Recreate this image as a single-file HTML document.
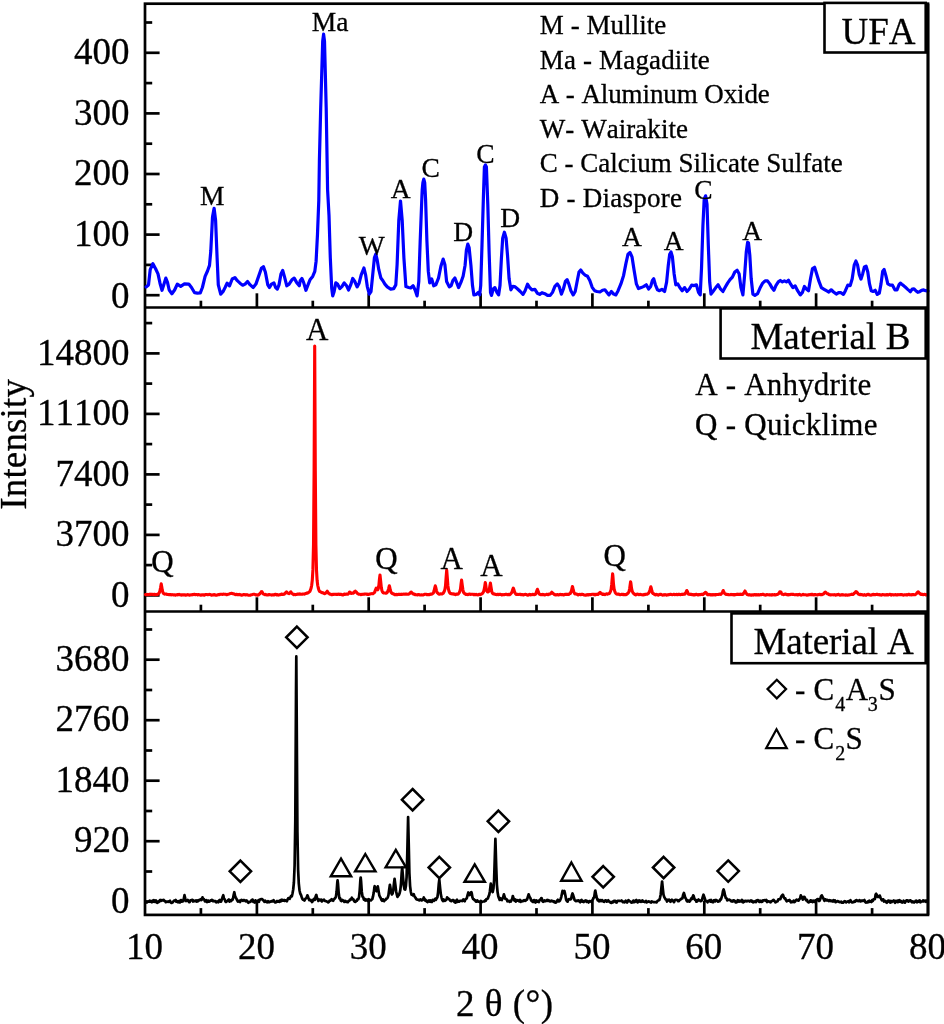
<!DOCTYPE html>
<html><head><meta charset="utf-8"><title>XRD patterns</title>
<style>html,body{margin:0;padding:0;background:#fff;}svg{display:block;}text{font-family:"Liberation Serif","DejaVu Serif",serif;fill:#000;font-kerning:none;stroke:#000;stroke-width:0.3px;}</style></head><body>
<svg width="944" height="1024" viewBox="0 0 944 1024">
<rect width="944" height="1024" fill="#fff"/>
<g stroke="#000" stroke-width="2.7" fill="none" stroke-linecap="butt">
<rect x="145.0" y="3.7" width="783.0" height="911.1999999999999"/>
<line x1="145.0" y1="307.5" x2="928.0" y2="307.5"/>
<line x1="145.0" y1="611.5" x2="928.0" y2="611.5"/>
<line x1="200.9" y1="307.5" x2="200.9" y2="300.7"/>
<line x1="256.9" y1="307.5" x2="256.9" y2="293.3"/>
<line x1="312.8" y1="307.5" x2="312.8" y2="300.7"/>
<line x1="368.7" y1="307.5" x2="368.7" y2="293.3"/>
<line x1="424.6" y1="307.5" x2="424.6" y2="300.7"/>
<line x1="480.6" y1="307.5" x2="480.6" y2="293.3"/>
<line x1="536.5" y1="307.5" x2="536.5" y2="300.7"/>
<line x1="592.4" y1="307.5" x2="592.4" y2="293.3"/>
<line x1="648.4" y1="307.5" x2="648.4" y2="300.7"/>
<line x1="704.3" y1="307.5" x2="704.3" y2="293.3"/>
<line x1="760.2" y1="307.5" x2="760.2" y2="300.7"/>
<line x1="816.1" y1="307.5" x2="816.1" y2="293.3"/>
<line x1="872.1" y1="307.5" x2="872.1" y2="300.7"/>
<line x1="200.9" y1="611.5" x2="200.9" y2="604.7"/>
<line x1="256.9" y1="611.5" x2="256.9" y2="597.3"/>
<line x1="312.8" y1="611.5" x2="312.8" y2="604.7"/>
<line x1="368.7" y1="611.5" x2="368.7" y2="597.3"/>
<line x1="424.6" y1="611.5" x2="424.6" y2="604.7"/>
<line x1="480.6" y1="611.5" x2="480.6" y2="597.3"/>
<line x1="536.5" y1="611.5" x2="536.5" y2="604.7"/>
<line x1="592.4" y1="611.5" x2="592.4" y2="597.3"/>
<line x1="648.4" y1="611.5" x2="648.4" y2="604.7"/>
<line x1="704.3" y1="611.5" x2="704.3" y2="597.3"/>
<line x1="760.2" y1="611.5" x2="760.2" y2="604.7"/>
<line x1="816.1" y1="611.5" x2="816.1" y2="597.3"/>
<line x1="872.1" y1="611.5" x2="872.1" y2="604.7"/>
<line x1="200.9" y1="914.9" x2="200.9" y2="908.1"/>
<line x1="256.9" y1="914.9" x2="256.9" y2="900.7"/>
<line x1="312.8" y1="914.9" x2="312.8" y2="908.1"/>
<line x1="368.7" y1="914.9" x2="368.7" y2="900.7"/>
<line x1="424.6" y1="914.9" x2="424.6" y2="908.1"/>
<line x1="480.6" y1="914.9" x2="480.6" y2="900.7"/>
<line x1="536.5" y1="914.9" x2="536.5" y2="908.1"/>
<line x1="592.4" y1="914.9" x2="592.4" y2="900.7"/>
<line x1="648.4" y1="914.9" x2="648.4" y2="908.1"/>
<line x1="704.3" y1="914.9" x2="704.3" y2="900.7"/>
<line x1="760.2" y1="914.9" x2="760.2" y2="908.1"/>
<line x1="816.1" y1="914.9" x2="816.1" y2="900.7"/>
<line x1="872.1" y1="914.9" x2="872.1" y2="908.1"/>
<line x1="145.0" y1="295.2" x2="159.6" y2="295.2"/>
<line x1="145.0" y1="234.6" x2="159.6" y2="234.6"/>
<line x1="145.0" y1="174.0" x2="159.6" y2="174.0"/>
<line x1="145.0" y1="113.4" x2="159.6" y2="113.4"/>
<line x1="145.0" y1="52.8" x2="159.6" y2="52.8"/>
<line x1="145.0" y1="264.9" x2="152.2" y2="264.9"/>
<line x1="145.0" y1="204.3" x2="152.2" y2="204.3"/>
<line x1="145.0" y1="143.7" x2="152.2" y2="143.7"/>
<line x1="145.0" y1="83.1" x2="152.2" y2="83.1"/>
<line x1="145.0" y1="22.5" x2="152.2" y2="22.5"/>
<line x1="145.0" y1="595.4" x2="159.6" y2="595.4"/>
<line x1="145.0" y1="534.9" x2="159.6" y2="534.9"/>
<line x1="145.0" y1="474.4" x2="159.6" y2="474.4"/>
<line x1="145.0" y1="413.9" x2="159.6" y2="413.9"/>
<line x1="145.0" y1="353.4" x2="159.6" y2="353.4"/>
<line x1="145.0" y1="565.1" x2="152.2" y2="565.1"/>
<line x1="145.0" y1="504.6" x2="152.2" y2="504.6"/>
<line x1="145.0" y1="444.1" x2="152.2" y2="444.1"/>
<line x1="145.0" y1="383.6" x2="152.2" y2="383.6"/>
<line x1="145.0" y1="323.1" x2="152.2" y2="323.1"/>
<line x1="145.0" y1="901.7" x2="159.6" y2="901.7"/>
<line x1="145.0" y1="841.2" x2="159.6" y2="841.2"/>
<line x1="145.0" y1="780.7" x2="159.6" y2="780.7"/>
<line x1="145.0" y1="720.2" x2="159.6" y2="720.2"/>
<line x1="145.0" y1="659.7" x2="159.6" y2="659.7"/>
<line x1="145.0" y1="871.5" x2="152.2" y2="871.5"/>
<line x1="145.0" y1="811.0" x2="152.2" y2="811.0"/>
<line x1="145.0" y1="750.5" x2="152.2" y2="750.5"/>
<line x1="145.0" y1="690.0" x2="152.2" y2="690.0"/>
<line x1="145.0" y1="629.5" x2="152.2" y2="629.5"/>
</g>
<polyline points="146.1,286.9 148.5,284.9 150.2,269.7 152.9,263.7 155.6,268.8 158.0,273.9 160.0,283.2 162.0,290.3 163.7,284.9 165.8,278.1 167.5,282.4 169.2,290.0 171.9,293.7 174.6,290.0 177.3,284.1 180.7,286.3 184.4,283.9 188.8,284.1 191.5,287.5 194.6,292.7 197.3,293.1 200.3,292.9 202.4,287.5 205.1,276.4 207.5,271.0 209.5,265.4 210.8,251.0 212.5,217.1 214.1,208.3 215.6,220.5 217.1,257.8 218.3,284.9 220.7,294.2 223.1,291.4 225.1,287.5 227.1,283.2 229.5,285.8 232.2,279.0 234.9,277.6 237.3,280.7 240.0,283.2 242.7,285.2 245.1,284.1 247.5,281.5 250.2,284.9 253.2,287.5 255.9,284.1 258.6,276.4 261.4,268.3 263.4,266.6 265.4,272.2 267.8,284.9 269.5,287.5 271.5,284.1 273.9,282.9 275.6,287.5 277.3,289.1 279.0,284.9 281.0,273.9 282.7,270.5 284.4,276.4 286.8,285.8 289.1,284.1 291.9,279.8 294.2,278.1 296.6,282.4 299.3,285.8 300.2,280.7 301.9,278.5 303.6,282.4 305.9,290.3 308.0,284.9 310.0,279.8 312.7,276.4 314.8,271.4 316.1,261.2 317.5,234.1 318.8,200.2 319.4,160.7 320.7,107.9 322.7,41.1 323.6,34.1 324.5,41.1 326.2,107.9 327.6,190.0 329.0,215.4 330.3,257.8 331.7,288.3 332.7,295.9 334.1,291.7 335.8,282.9 337.5,284.1 339.8,288.6 341.9,286.6 344.2,282.9 346.6,285.8 348.6,290.0 350.7,284.9 352.7,278.5 354.8,281.5 357.1,286.9 359.1,283.2 361.2,274.8 363.9,268.0 365.6,274.8 367.3,286.6 369.3,294.2 371.0,291.7 372.7,274.8 374.4,257.8 375.8,254.1 377.1,259.5 378.8,269.7 380.9,278.1 382.9,280.7 384.9,284.1 387.3,286.9 390.7,289.1 393.7,288.6 395.8,284.9 397.1,264.6 398.8,220.5 400.5,201.0 402.2,220.5 403.9,257.8 405.9,286.6 408.6,287.5 410.7,288.0 413.1,285.8 415.1,290.0 417.1,295.9 418.8,281.5 420.2,240.8 421.9,196.8 422.2,190.0 422.9,182.6 423.8,179.1 424.7,182.6 425.1,190.0 425.6,200.2 426.9,240.8 428.3,271.4 429.7,282.9 431.7,279.0 433.7,285.8 435.8,284.9 438.5,278.1 440.9,266.3 443.2,259.1 444.9,264.6 446.6,281.5 449.3,286.9 451.2,285.6 452.9,280.5 454.9,278.0 456.9,283.1 458.6,287.6 461.0,282.2 463.1,276.3 465.1,265.2 466.4,250.0 467.8,244.1 469.1,247.5 470.9,265.2 472.5,285.6 473.9,294.9 476.3,294.4 478.3,292.4 479.7,294.9 480.7,285.6 482.0,244.9 483.4,197.5 484.4,166.9 485.4,164.9 486.4,166.9 487.8,204.2 489.1,251.7 490.5,292.4 491.5,295.4 493.2,289.0 494.9,287.6 496.9,292.4 498.6,294.9 500.0,285.6 501.4,258.5 502.7,238.1 504.4,232.2 506.1,238.1 507.5,255.1 509.1,278.8 510.9,289.8 512.9,286.4 515.2,286.9 517.6,289.0 520.3,291.5 523.0,294.4 525.1,290.7 527.5,284.2 529.5,287.3 531.9,289.8 534.9,289.3 537.3,293.2 539.7,294.4 542.0,292.7 544.8,293.7 547.5,295.4 550.2,295.4 552.5,292.4 554.9,286.4 557.3,283.9 559.3,286.9 561.4,294.1 563.4,289.0 565.4,281.4 567.1,279.7 568.8,283.9 570.9,290.7 573.2,294.9 575.2,291.5 577.3,280.5 579.0,272.0 580.7,270.0 582.7,272.9 585.1,275.1 587.5,276.3 589.8,280.5 592.2,287.3 594.6,290.7 597.0,291.5 600.0,292.0 602.5,290.3 604.9,289.8 607.0,292.4 609.0,294.9 611.4,291.5 613.7,294.1 615.8,294.9 618.1,290.7 620.9,283.9 623.6,275.4 625.9,263.6 628.0,254.2 630.0,252.5 632.0,256.8 634.1,270.3 636.4,283.9 638.5,288.6 641.2,287.6 643.9,286.4 646.3,284.8 648.6,289.0 650.7,286.4 652.4,280.5 653.7,278.8 655.4,284.8 657.5,289.8 659.5,290.7 661.9,289.3 664.6,291.5 666.6,282.2 668.3,265.2 669.7,254.2 671.0,252.0 672.4,256.8 674.1,273.7 675.8,284.8 677.8,283.9 679.8,287.6 682.2,290.7 684.6,287.6 687.0,291.5 689.3,289.0 691.7,285.2 694.1,285.6 696.4,284.8 698.5,292.4 700.2,294.9 701.5,268.6 702.9,226.3 704.2,199.2 705.6,195.8 707.0,204.2 708.3,244.9 709.7,282.2 711.0,294.1 713.0,291.5 715.8,287.6 718.1,284.8 720.5,289.0 722.9,291.5 725.2,287.3 727.6,283.1 730.0,279.7 732.4,277.1 734.8,272.0 737.1,270.3 739.1,273.7 740.9,287.3 742.9,294.9 744.6,275.4 746.3,251.7 747.6,242.4 748.5,242.9 749.8,255.1 751.2,278.8 752.9,294.1 754.9,295.4 757.6,293.7 760.0,288.1 762.7,283.1 765.1,280.9 767.5,280.9 769.8,283.9 772.2,288.1 773.9,290.3 775.9,285.6 778.3,281.9 780.3,280.5 782.4,281.9 784.4,280.9 786.4,281.9 788.5,280.2 790.5,283.9 792.9,287.6 795.2,285.9 797.6,290.7 800.3,294.9 802.4,292.4 804.4,286.4 806.4,289.0 808.5,290.7 810.5,278.8 812.5,268.6 814.6,267.3 816.6,273.7 819.0,281.4 821.4,287.6 824.1,289.3 826.4,290.7 828.8,292.0 831.2,289.8 833.6,292.0 836.3,294.1 838.6,292.7 841.0,292.7 843.4,294.4 845.4,290.7 847.8,285.2 850.2,285.6 852.2,278.8 854.2,265.2 855.9,261.0 857.6,265.2 859.3,274.6 861.0,279.1 862.7,273.7 864.4,266.9 866.1,266.1 867.8,272.0 869.5,283.9 871.2,290.7 873.2,291.5 875.2,290.3 877.3,294.4 879.3,293.2 881.0,283.9 882.7,271.2 884.1,269.5 885.8,275.4 887.8,283.9 890.2,285.2 892.5,285.2 894.9,289.8 897.0,289.8 899.0,284.8 900.3,283.1 901.8,284.3 903.6,285.6 905.4,287.2 907.4,289.1 908.9,290.4 910.4,291.7 912.2,289.1 914.0,288.9 915.8,290.7 917.8,292.3 919.6,291.7 921.6,290.4 923.7,289.9 925.7,290.7 928.0,291.1" fill="none" stroke="#0000ff" stroke-width="3.2" stroke-linejoin="round" stroke-linecap="round"/>
<polyline points="145.5,594.6 146.1,594.5 146.7,594.7 147.3,594.4 147.9,594.6 148.5,594.6 149.1,594.4 149.7,594.5 150.3,594.3 150.9,594.5 151.5,594.3 152.1,594.2 152.7,594.4 153.3,594.7 153.9,594.4 154.5,594.3 155.1,594.5 155.7,594.8 156.3,594.6 156.9,594.4 157.5,594.5 158.1,593.8 158.7,593.7 159.3,592.8 159.9,591.0 160.5,588.0 161.2,583.9 161.7,586.6 162.3,590.3 162.9,592.4 163.5,593.4 164.1,593.8 164.7,594.1 165.3,594.0 165.9,594.0 166.5,594.1 167.1,594.5 167.7,594.5 168.3,594.5 168.9,594.6 169.5,594.6 170.1,594.5 170.7,594.8 171.3,594.9 171.9,594.6 172.5,594.7 173.1,594.8 173.7,595.0 174.3,595.0 174.9,594.8 175.5,595.1 176.1,594.7 176.7,594.7 177.3,594.9 177.9,594.6 178.5,594.7 179.1,594.4 179.7,594.7 180.3,594.9 180.9,594.9 181.5,595.1 182.1,594.8 182.7,594.9 183.3,594.9 183.9,594.9 184.5,594.8 185.1,595.0 185.7,595.2 186.3,595.0 186.9,595.0 187.5,594.6 188.1,594.8 188.7,594.9 189.3,595.2 189.9,595.2 190.5,594.9 191.1,594.7 191.7,594.9 192.3,594.5 192.9,594.6 193.5,594.5 194.1,594.4 194.7,594.3 195.3,594.7 195.9,594.5 196.5,594.5 197.1,594.5 197.7,594.9 198.3,594.6 198.9,594.6 199.5,594.8 200.1,595.0 200.7,595.1 201.3,595.2 201.9,594.9 202.5,594.8 203.1,594.7 203.7,595.0 204.3,595.2 204.9,594.8 205.5,594.5 206.1,594.5 206.7,594.5 207.3,594.6 207.9,594.8 208.5,594.6 209.1,594.4 209.7,594.5 210.3,594.6 210.9,594.7 211.5,595.1 212.1,595.1 212.7,594.9 213.3,594.9 213.9,595.0 214.5,594.6 215.1,595.0 215.7,595.1 216.3,595.2 216.9,595.2 217.5,594.9 218.1,594.8 218.7,594.5 219.3,594.7 219.9,594.4 220.5,594.3 221.1,594.3 221.7,594.3 222.3,594.4 222.9,594.3 223.5,594.1 224.1,594.2 224.7,594.2 225.3,594.3 225.9,594.2 226.5,594.6 227.1,594.7 227.7,594.4 228.3,594.2 228.9,594.1 229.5,593.9 230.1,593.5 230.7,593.5 231.5,593.4 231.9,593.3 232.5,593.6 233.1,593.7 233.7,593.8 234.3,594.1 234.9,594.2 235.5,594.6 236.1,594.4 236.7,594.2 237.3,594.8 237.9,594.8 238.5,594.5 239.1,594.6 239.7,594.4 240.3,594.6 240.9,595.0 241.5,595.1 242.1,595.1 242.7,594.8 243.3,594.7 243.9,594.5 244.5,594.8 245.1,594.8 245.7,595.0 246.3,594.8 246.9,594.6 247.5,594.9 248.1,595.2 248.7,595.2 249.3,595.2 249.9,595.2 250.5,595.1 251.1,594.8 251.7,594.8 252.3,594.6 252.9,594.4 253.5,594.2 254.1,594.3 254.7,594.3 255.3,594.6 255.9,595.0 256.5,594.7 257.1,595.0 257.7,595.1 258.3,595.0 258.9,594.5 259.5,594.0 260.1,593.5 260.7,592.8 261.3,591.8 261.8,591.6 262.5,592.7 263.1,593.7 263.7,594.1 264.3,594.4 264.9,594.7 265.5,594.4 266.1,594.6 266.7,594.9 267.3,595.0 267.9,595.0 268.5,594.8 269.1,594.5 269.7,594.8 270.3,594.7 270.9,594.9 271.5,595.1 272.1,594.9 272.7,594.7 273.3,595.0 273.9,595.0 274.5,594.7 275.1,594.4 275.7,594.3 276.3,594.8 276.9,595.0 277.5,594.6 278.1,594.9 278.7,595.1 279.3,594.9 279.9,594.6 280.5,594.6 281.1,594.3 281.7,594.0 282.3,594.5 282.9,594.5 283.5,594.3 284.1,594.3 284.7,593.7 285.3,593.1 286.2,592.2 286.5,591.9 287.1,592.5 287.7,593.1 288.3,593.4 288.9,593.6 289.5,593.2 290.1,592.7 290.8,591.8 291.3,592.8 291.9,593.4 292.5,593.9 293.1,594.2 293.7,594.6 294.3,594.4 294.9,594.7 295.5,594.6 296.1,594.5 296.7,594.5 297.3,594.1 297.9,594.2 298.5,594.1 299.1,593.9 299.7,594.3 300.3,594.1 300.9,594.1 301.5,594.3 302.1,594.3 302.7,594.0 303.3,594.0 303.9,594.0 304.5,594.1 305.1,593.6 305.7,593.6 306.3,593.3 306.9,593.0 307.5,593.1 308.1,592.8 308.7,592.4 309.3,591.9 309.9,591.3 310.5,589.9 311.1,588.1 311.7,585.2 312.3,580.1 312.9,569.9 313.5,545.0 314.1,470.4 314.7,346.0 315.3,470.4 315.9,545.1 316.5,570.0 317.1,580.3 317.7,585.2 318.3,588.0 318.9,590.1 319.5,591.3 320.1,591.6 320.7,591.9 321.3,592.4 321.9,592.5 322.5,592.8 323.1,592.8 323.7,593.3 324.3,593.5 324.9,593.7 325.5,593.1 326.1,592.8 326.7,592.1 327.3,591.2 327.9,592.2 328.5,593.3 329.1,593.5 329.7,594.1 330.3,594.1 330.9,594.2 331.5,594.6 332.1,594.7 332.7,594.3 333.3,594.3 333.9,594.4 334.5,594.3 335.1,594.2 335.7,594.2 336.3,594.5 336.9,594.2 337.5,594.4 338.1,594.4 338.7,594.1 339.3,594.2 339.9,594.5 340.5,594.5 341.1,594.2 341.7,594.7 342.3,594.8 342.9,595.0 343.5,594.5 344.1,594.3 344.7,594.0 345.3,594.4 345.9,594.2 346.5,594.0 347.1,594.0 347.7,594.2 348.3,594.0 348.9,593.1 349.5,592.1 350.0,592.1 350.7,592.7 351.3,593.4 351.9,593.3 352.5,593.1 353.1,593.3 353.7,592.8 354.3,591.9 354.9,591.5 355.4,591.2 356.1,592.0 356.7,592.5 357.3,593.5 357.9,593.5 358.5,594.1 359.1,594.2 359.7,594.2 360.3,594.4 360.9,594.7 361.5,594.4 362.1,594.2 362.7,594.4 363.3,594.3 363.9,594.1 364.5,594.1 365.1,594.0 365.7,594.0 366.3,594.1 366.9,594.2 367.5,594.5 368.1,594.3 368.7,594.4 369.3,594.1 369.9,594.1 370.5,593.8 371.1,593.8 371.7,593.6 372.3,593.8 372.9,593.7 373.5,593.2 374.1,592.8 374.7,592.2 375.3,590.3 376.2,588.2 376.5,588.3 377.1,589.3 377.7,589.8 378.3,588.5 378.9,585.1 379.5,578.7 380.0,575.0 380.7,581.4 381.3,587.3 381.9,590.5 382.5,592.0 383.1,592.6 383.7,593.0 384.3,593.0 384.9,593.0 385.5,593.0 386.1,593.3 386.7,592.9 387.3,592.2 387.9,591.0 388.5,589.1 389.3,585.8 389.7,587.0 390.3,590.1 390.9,591.9 391.5,592.8 392.1,593.5 392.7,593.6 393.3,593.9 393.9,594.0 394.5,594.5 395.1,594.8 395.7,594.7 396.3,594.4 396.9,594.8 397.5,594.5 398.1,594.5 398.7,594.2 399.3,594.3 399.9,594.4 400.5,594.5 401.1,594.4 401.7,594.5 402.3,594.2 402.9,594.2 403.5,594.1 404.1,594.3 404.7,594.1 405.3,594.0 405.9,594.1 406.5,594.0 407.1,594.2 407.7,594.2 408.3,594.2 408.9,594.0 409.5,593.6 410.1,593.0 411.0,592.0 411.3,592.0 411.9,593.0 412.5,593.2 413.1,593.9 413.7,594.2 414.3,594.0 414.9,594.5 415.5,594.8 416.1,594.8 416.7,594.8 417.3,594.9 417.9,594.5 418.5,594.6 419.1,594.6 419.7,594.9 420.3,595.0 420.9,595.0 421.5,594.9 422.1,595.0 422.7,595.0 423.3,594.9 423.9,594.6 424.5,594.3 425.1,594.2 425.7,594.3 426.3,594.2 426.9,594.6 427.5,594.6 428.1,594.6 428.7,594.6 429.3,594.6 429.9,594.5 430.5,594.0 431.1,594.3 431.7,594.2 432.3,593.9 432.9,593.4 433.5,592.7 434.1,590.8 434.7,588.2 435.3,585.8 435.9,588.0 436.5,590.6 437.1,592.5 437.7,593.0 438.3,593.6 438.9,594.2 439.5,594.1 440.1,594.0 440.7,593.9 441.3,594.0 441.9,594.0 442.5,593.7 443.1,593.4 443.7,592.4 444.3,591.3 444.9,589.4 445.5,585.8 446.1,577.6 446.7,570.1 447.3,577.6 447.9,585.7 448.5,589.4 449.1,591.6 449.7,592.7 450.3,593.4 450.9,593.5 451.5,593.8 452.1,593.9 452.7,594.0 453.3,593.9 453.9,594.3 454.5,594.1 455.1,594.5 455.7,594.6 456.3,594.0 456.9,594.0 457.5,594.1 458.1,594.1 458.7,593.5 459.3,592.6 459.9,591.2 460.5,588.9 461.1,583.5 461.6,580.1 462.3,585.5 462.9,589.8 463.5,592.3 464.1,592.9 464.7,593.7 465.3,594.0 465.9,594.4 466.5,594.5 467.1,594.3 467.7,594.6 468.3,594.5 468.9,594.2 469.5,594.0 470.1,594.3 470.7,594.4 471.3,594.3 471.9,594.2 472.5,594.3 473.1,594.3 473.7,594.7 474.3,594.3 474.9,594.6 475.5,594.8 476.1,594.4 476.7,594.8 477.3,594.8 477.9,594.9 478.5,594.5 479.1,594.4 479.7,594.2 480.3,594.6 480.9,594.4 481.5,594.0 482.1,593.7 482.7,593.1 483.3,592.2 483.9,590.6 484.5,587.9 485.3,582.6 485.7,584.6 486.3,588.9 486.9,591.0 487.5,592.0 488.1,591.9 488.7,591.3 489.3,589.8 489.9,585.7 490.4,583.1 491.1,587.5 491.7,591.3 492.3,593.0 492.9,593.6 493.5,594.0 494.1,593.8 494.7,594.2 495.3,594.3 495.9,594.5 496.5,594.6 497.1,594.4 497.7,594.2 498.3,594.7 498.9,594.4 499.5,594.5 500.1,594.4 500.7,594.4 501.3,594.7 501.9,595.0 502.5,594.6 503.1,594.8 503.7,594.6 504.3,594.6 504.9,594.5 505.5,594.4 506.1,594.2 506.7,594.2 507.3,594.6 507.9,594.6 508.5,594.3 509.1,594.6 509.7,594.7 510.3,594.3 510.9,593.6 511.5,592.9 512.1,591.7 512.7,589.6 513.3,588.1 513.9,589.6 514.5,591.7 515.1,593.1 515.7,594.0 516.3,594.4 516.9,594.4 517.5,594.4 518.1,594.5 518.7,594.5 519.3,594.4 519.9,594.2 520.5,594.3 521.1,594.8 521.7,594.5 522.3,594.6 522.9,594.7 523.5,595.0 524.1,594.6 524.7,594.5 525.3,594.4 525.9,594.5 526.5,594.6 527.1,595.0 527.7,595.1 528.3,595.1 528.9,594.6 529.5,594.3 530.1,594.6 530.7,594.9 531.3,594.7 531.9,594.7 532.5,594.3 533.1,594.3 533.7,594.6 534.3,594.6 534.9,594.5 535.5,594.2 536.1,593.0 536.7,591.1 537.4,589.3 537.9,590.5 538.5,592.5 539.1,593.8 539.7,594.3 540.3,594.5 540.9,594.7 541.5,594.6 542.1,594.6 542.7,594.3 543.3,594.7 543.9,594.5 544.5,594.9 545.1,594.9 545.7,594.6 546.3,594.4 546.9,594.3 547.5,594.5 548.1,594.7 548.7,594.3 549.3,594.0 549.9,594.1 550.5,593.9 551.1,593.1 551.8,592.2 552.3,592.9 552.9,593.3 553.5,593.8 554.1,594.2 554.7,594.7 555.3,594.8 555.9,595.0 556.5,594.8 557.1,594.6 557.7,594.5 558.3,594.9 558.9,594.9 559.5,594.7 560.1,594.4 560.7,594.5 561.3,594.7 561.9,594.6 562.5,594.5 563.1,594.7 563.7,595.0 564.3,594.6 564.9,594.3 565.5,594.3 566.1,594.4 566.7,594.5 567.3,594.3 567.9,594.5 568.5,594.5 569.1,594.2 569.7,593.6 570.3,593.5 570.9,592.2 571.5,590.5 572.4,586.5 572.7,587.2 573.3,590.3 573.9,592.1 574.5,593.5 575.1,593.9 575.7,593.9 576.3,594.0 576.9,594.2 577.5,594.5 578.1,594.9 578.7,594.5 579.3,594.5 579.9,594.4 580.5,594.8 581.1,594.5 581.7,594.3 582.3,594.2 582.9,594.4 583.5,594.8 584.1,595.0 584.7,595.0 585.3,595.2 585.9,595.3 586.5,594.9 587.1,594.6 587.7,594.9 588.3,595.0 588.9,594.5 589.5,594.7 590.1,594.6 590.7,594.6 591.3,594.5 591.9,594.4 592.5,594.2 593.1,594.2 593.7,594.3 594.3,594.8 594.9,594.4 595.5,594.8 596.1,594.4 596.7,594.3 597.3,594.5 597.9,594.5 598.5,594.0 599.1,593.1 600.0,592.4 600.3,592.5 600.9,593.5 601.5,593.7 602.1,594.0 602.7,594.5 603.3,594.1 603.9,594.2 604.5,594.5 605.1,594.6 605.7,594.1 606.3,593.9 606.9,593.7 607.5,594.1 608.1,593.8 608.7,593.8 609.3,593.6 609.9,592.7 610.5,591.4 611.1,589.5 611.7,584.4 612.6,573.8 612.9,576.0 613.5,584.3 614.1,589.0 614.7,591.0 615.3,592.6 615.9,593.5 616.5,593.9 617.1,594.3 617.7,594.0 618.3,594.0 618.9,594.1 619.5,594.6 620.1,594.8 620.7,594.6 621.3,594.3 621.9,594.4 622.5,594.4 623.1,594.7 623.7,594.3 624.3,594.6 624.9,594.6 625.5,594.6 626.1,594.6 626.7,594.3 627.3,593.8 627.9,593.3 628.5,592.5 629.1,591.4 629.7,588.2 630.6,581.7 630.9,583.1 631.5,588.2 632.1,590.9 632.7,592.2 633.3,593.2 633.9,593.6 634.5,594.3 635.1,594.6 635.7,594.9 636.3,594.5 636.9,594.2 637.5,594.1 638.1,594.3 638.7,594.6 639.3,594.6 639.9,594.4 640.5,594.4 641.1,594.6 641.7,594.7 642.3,594.8 642.9,594.9 643.5,594.9 644.1,594.4 644.7,594.7 645.3,594.4 645.9,594.4 646.5,594.2 647.1,594.3 647.7,593.8 648.3,593.4 648.9,592.7 649.5,591.4 650.1,589.5 650.8,586.8 651.3,588.3 651.9,591.0 652.5,593.0 653.1,593.6 653.7,593.8 654.3,594.3 654.9,594.5 655.5,594.9 656.1,594.4 656.7,594.5 657.3,594.8 657.9,595.0 658.5,595.1 659.1,594.6 659.7,594.5 660.3,594.3 660.9,594.3 661.5,594.8 662.1,594.8 662.7,595.1 663.3,594.8 663.9,595.0 664.5,594.9 665.1,594.6 665.7,594.9 666.3,595.1 666.9,594.7 667.5,594.8 668.1,594.9 668.7,594.6 669.3,594.6 669.9,594.4 670.5,594.4 671.1,594.4 671.7,594.6 672.3,594.8 672.9,594.6 673.5,594.3 674.1,594.4 674.7,594.7 675.3,594.5 675.9,594.5 676.5,594.4 677.1,594.8 677.7,594.8 678.3,594.4 678.9,594.3 679.5,594.4 680.1,594.6 680.7,594.7 681.3,594.4 681.9,594.2 682.5,594.5 683.1,594.4 683.7,594.2 684.3,594.0 684.9,594.1 685.5,593.2 686.1,592.0 686.8,590.5 687.3,591.3 687.9,593.1 688.5,594.1 689.1,594.2 689.7,594.2 690.3,594.5 690.9,594.4 691.5,594.2 692.1,594.7 692.7,594.6 693.3,594.9 693.9,594.7 694.5,595.0 695.1,594.8 695.7,594.5 696.3,594.3 696.9,594.5 697.5,594.7 698.1,595.0 698.7,594.5 699.3,594.7 699.9,594.6 700.5,594.6 701.1,594.4 701.7,594.3 702.3,594.4 702.9,594.6 703.5,594.0 704.1,593.6 704.7,593.0 705.4,592.3 705.9,592.4 706.5,593.2 707.1,594.2 707.7,594.7 708.3,594.7 708.9,594.3 709.5,594.8 710.1,594.6 710.7,595.0 711.3,594.9 711.9,595.0 712.5,594.6 713.1,594.9 713.7,594.6 714.3,594.6 714.9,594.9 715.5,595.0 716.1,594.6 716.7,594.5 717.3,594.5 717.9,594.5 718.5,594.5 719.1,594.2 719.7,594.1 720.3,594.3 720.9,594.4 721.5,593.6 722.1,592.9 722.7,591.7 723.2,590.5 723.9,592.2 724.5,593.1 725.1,593.9 725.7,594.2 726.3,594.5 726.9,594.4 727.5,594.5 728.1,594.6 728.7,594.6 729.3,594.8 729.9,594.7 730.5,594.7 731.1,594.4 731.7,594.6 732.3,594.7 732.9,594.5 733.5,594.8 734.1,595.0 734.7,594.8 735.3,594.5 735.9,594.6 736.5,594.4 737.1,594.3 737.7,594.5 738.3,594.3 738.9,594.4 739.5,594.5 740.1,594.3 740.7,594.5 741.3,594.2 741.9,594.4 742.5,594.5 743.1,594.1 743.7,593.2 744.3,592.2 745.0,591.0 745.5,592.1 746.1,593.0 746.7,594.0 747.3,594.6 747.9,594.8 748.5,594.9 749.1,594.6 749.7,595.0 750.3,594.8 750.9,595.1 751.5,595.2 752.1,594.7 752.7,594.9 753.3,595.1 753.9,594.6 754.5,594.6 755.1,594.9 755.7,594.6 756.3,594.9 756.9,594.7 757.5,595.0 758.1,594.6 758.7,594.7 759.3,595.0 759.9,594.7 760.5,594.6 761.1,594.7 761.7,594.6 762.3,594.4 762.9,594.3 763.5,594.3 764.1,594.9 764.7,594.9 765.3,595.1 765.9,594.7 766.5,594.9 767.1,594.6 767.7,594.7 768.3,594.8 768.9,594.7 769.5,595.0 770.1,594.9 770.7,594.9 771.3,595.1 771.9,594.6 772.5,595.0 773.1,594.9 773.7,594.7 774.3,594.9 774.9,594.6 775.5,594.9 776.1,594.8 776.7,594.5 777.3,594.5 777.9,594.2 778.5,593.6 779.1,593.3 779.7,592.0 780.3,591.7 780.9,592.1 781.5,593.2 782.1,594.2 782.7,594.4 783.3,594.6 783.9,594.5 784.5,594.2 785.1,594.1 785.7,594.1 786.3,594.5 786.9,594.6 787.5,594.6 788.1,595.0 788.7,594.6 789.3,594.5 789.9,594.7 790.5,594.4 791.1,594.2 791.7,594.4 792.3,594.3 792.9,594.4 793.5,594.4 794.1,594.6 794.7,594.8 795.3,594.6 795.9,594.8 796.5,594.8 797.1,594.5 797.7,595.0 798.3,594.7 798.9,594.5 799.5,594.4 800.1,594.7 800.7,595.0 801.3,595.1 801.9,594.9 802.5,594.7 803.1,594.4 803.7,594.7 804.3,594.8 804.9,594.7 805.5,594.8 806.1,594.8 806.7,595.1 807.3,595.1 807.9,594.8 808.5,595.0 809.1,594.6 809.7,594.7 810.3,594.7 810.9,594.5 811.5,594.3 812.1,594.8 812.7,594.4 813.3,594.6 813.9,595.0 814.5,594.6 815.1,594.5 815.7,594.7 816.3,594.7 816.9,594.8 817.5,595.0 818.1,594.6 818.7,594.5 819.3,594.5 819.9,594.2 820.5,594.7 821.1,594.8 821.7,594.8 822.3,594.2 822.9,594.3 823.5,594.1 824.1,593.3 824.7,592.5 825.2,592.0 825.9,592.5 826.5,593.1 827.1,593.6 827.7,593.7 828.3,594.0 828.9,594.5 829.5,594.7 830.1,594.9 830.7,595.0 831.3,594.7 831.9,594.7 832.5,594.7 833.1,594.9 833.7,594.8 834.3,594.6 834.9,594.8 835.5,595.1 836.1,594.7 836.7,595.0 837.3,594.5 837.9,594.5 838.5,594.4 839.1,594.8 839.7,595.1 840.3,595.1 840.9,594.8 841.5,595.0 842.1,594.8 842.7,594.6 843.3,595.0 843.9,595.0 844.5,595.0 845.1,595.0 845.7,595.2 846.3,594.9 846.9,595.1 847.5,595.0 848.1,595.1 848.7,594.9 849.3,594.9 849.9,594.8 850.5,594.6 851.1,594.4 851.7,594.5 852.3,594.2 852.9,594.5 853.5,594.0 854.1,593.5 854.7,592.8 855.3,592.5 856.0,591.5 856.5,591.8 857.1,592.6 857.7,593.2 858.3,594.0 858.9,594.4 859.5,594.6 860.1,594.8 860.7,594.4 861.3,594.6 861.9,594.6 862.5,594.9 863.1,595.0 863.7,595.1 864.3,594.6 864.9,595.0 865.5,595.1 866.1,595.3 866.7,594.7 867.3,594.5 867.9,594.4 868.5,594.2 869.1,594.8 869.7,595.0 870.3,595.0 870.9,595.1 871.5,595.0 872.1,594.8 872.7,594.5 873.3,594.4 873.9,594.8 874.5,594.6 875.1,594.5 875.7,594.6 876.3,594.4 876.9,594.4 877.5,594.4 878.1,594.8 878.7,594.7 879.3,594.6 879.9,595.0 880.5,594.9 881.1,595.1 881.7,595.0 882.3,594.6 882.9,594.6 883.5,594.7 884.1,594.9 884.7,594.8 885.3,594.9 885.9,594.9 886.5,594.6 887.1,595.0 887.7,594.6 888.3,594.9 888.9,594.6 889.5,594.4 890.1,594.4 890.7,594.8 891.3,595.1 891.9,594.6 892.5,594.7 893.1,594.7 893.7,595.0 894.3,594.7 894.9,594.7 895.5,594.6 896.1,595.0 896.7,594.7 897.3,595.0 897.9,594.8 898.5,594.6 899.1,594.8 899.7,594.8 900.3,594.5 900.9,594.8 901.5,594.5 902.1,594.8 902.7,594.9 903.3,595.1 903.9,595.0 904.5,594.8 905.1,594.7 905.7,594.7 906.3,595.0 906.9,594.6 907.5,594.9 908.1,594.5 908.7,594.4 909.3,594.4 909.9,594.9 910.5,594.8 911.1,594.6 911.7,594.9 912.3,594.6 912.9,594.6 913.5,594.6 914.1,594.7 914.7,594.7 915.3,594.6 915.9,594.1 916.5,593.6 917.1,592.8 917.7,592.2 918.2,591.8 918.9,592.7 919.5,593.2 920.1,593.8 920.7,594.3 921.3,594.5 921.9,594.3 922.5,594.4 923.1,594.8 923.7,594.6 924.3,594.4 924.9,594.4 925.5,594.7 926.1,595.0 926.7,594.6 927.3,594.4" fill="none" stroke="#ff0000" stroke-width="3.1" stroke-linejoin="round" stroke-linecap="round"/>
<polyline points="145.5,901.3 146.2,901.5 146.9,902.5 147.6,901.6 148.3,901.5 149.0,901.6 149.7,900.7 150.4,901.2 151.1,901.7 151.8,902.2 152.5,900.6 153.2,900.7 153.9,900.1 154.6,901.8 155.3,902.0 156.0,900.4 156.7,902.3 157.4,902.8 158.1,902.2 158.8,901.9 159.5,900.7 160.2,900.0 160.9,901.0 161.6,900.2 162.3,900.2 163.0,900.4 163.7,899.9 164.4,900.9 165.1,901.1 165.8,902.2 166.5,901.7 167.2,901.8 167.9,901.5 168.6,901.8 169.3,901.4 170.0,900.8 170.7,902.5 171.4,903.0 172.1,902.7 172.8,902.3 173.5,901.2 174.2,900.6 174.9,900.6 175.6,900.0 176.3,901.6 177.0,901.2 177.7,902.1 178.4,901.3 179.1,902.4 179.8,902.5 180.5,900.3 181.2,900.1 181.9,901.7 182.6,900.8 183.3,901.1 184.0,897.8 184.5,895.2 185.4,899.1 186.1,901.1 186.8,900.5 187.5,899.9 188.2,900.4 188.9,902.1 189.6,902.2 190.3,900.6 191.0,900.4 191.7,900.0 192.4,899.8 193.1,901.6 193.8,900.6 194.5,901.2 195.2,901.1 195.9,900.4 196.6,901.5 197.3,900.3 198.0,901.2 198.7,900.1 199.4,900.4 200.1,899.7 200.8,899.2 201.5,900.0 202.2,898.7 202.5,897.3 202.9,898.8 203.6,898.8 204.3,899.8 205.0,901.4 205.7,901.5 206.4,900.2 207.1,902.1 207.8,900.7 208.5,900.5 209.2,901.7 209.9,901.0 210.6,900.7 211.3,900.0 212.0,899.9 212.7,901.1 213.4,900.6 214.1,901.3 214.8,901.0 215.5,901.1 216.2,902.4 216.9,901.5 217.6,901.5 218.3,902.2 219.0,900.6 219.7,900.0 220.4,901.6 221.1,901.6 221.8,899.6 222.5,897.3 223.3,895.2 223.9,898.5 224.6,899.2 225.3,901.4 226.0,902.0 226.7,901.5 227.4,901.0 228.1,900.0 228.8,899.5 229.5,901.6 230.2,900.4 230.9,901.0 231.6,899.8 232.3,900.2 233.0,898.5 233.7,894.7 234.3,892.2 235.1,896.2 235.8,897.6 236.5,898.9 237.2,900.3 237.9,901.6 238.6,901.5 239.3,900.6 240.0,902.0 240.7,900.7 241.4,899.8 242.1,900.2 242.8,900.8 243.5,900.0 244.2,900.1 244.9,900.6 245.6,901.3 246.3,900.4 247.0,900.7 247.7,902.1 248.4,902.8 249.1,902.1 249.8,902.0 250.5,901.7 251.2,900.5 251.9,899.9 252.6,899.6 253.3,901.8 254.0,901.9 254.7,902.5 255.4,900.3 256.1,901.2 256.8,901.0 257.5,901.5 258.2,900.5 258.9,901.8 259.6,899.5 260.3,899.5 261.0,899.2 261.8,899.1 262.4,899.3 263.1,900.1 263.8,901.0 264.5,901.8 265.2,900.7 265.9,901.3 266.6,902.1 267.3,902.3 268.0,901.2 268.7,901.9 269.4,902.2 270.1,901.6 270.8,901.6 271.5,901.0 272.2,901.3 272.9,901.4 273.6,900.1 274.3,901.2 275.0,902.3 275.7,902.4 276.4,902.0 277.1,901.0 277.8,901.6 278.5,901.4 279.2,900.9 279.9,901.8 280.6,900.1 281.3,901.2 282.0,899.7 282.7,900.7 283.4,900.6 284.1,899.9 284.8,900.8 285.5,900.4 286.2,900.5 286.9,901.2 287.6,899.5 288.3,898.2 289.0,898.2 289.7,898.8 290.4,897.3 291.1,896.0 291.8,896.3 292.5,893.5 293.2,889.5 293.9,882.5 294.6,865.8 295.3,821.0 296.0,694.3 296.3,656.4 296.7,717.0 297.4,831.2 298.1,869.6 298.8,883.6 299.5,890.2 300.2,893.5 300.9,894.7 301.6,896.8 302.3,898.7 303.0,899.7 303.7,899.9 304.4,900.6 305.1,899.2 305.8,898.3 306.5,897.9 307.4,895.3 307.9,896.3 308.6,898.6 309.3,900.1 310.0,900.3 310.7,900.0 311.4,901.2 312.1,902.0 312.8,900.8 313.5,899.4 314.2,898.6 314.9,899.9 315.6,896.5 316.3,894.9 317.0,897.8 317.7,899.1 318.4,900.9 319.1,899.6 319.8,899.5 320.5,900.4 321.2,899.6 321.9,901.4 322.6,900.5 323.3,900.0 324.0,899.6 324.7,900.9 325.4,900.9 326.1,901.3 326.8,901.5 327.5,901.9 328.2,902.4 328.9,901.9 329.6,900.5 330.3,900.7 331.0,900.0 331.7,899.2 332.4,900.1 333.1,900.8 333.8,899.4 334.5,898.8 335.2,898.0 335.9,896.9 336.6,891.8 337.3,882.3 337.6,880.3 338.0,883.6 338.7,893.0 339.4,898.3 340.1,898.2 340.8,900.6 341.5,901.0 342.2,899.8 342.9,900.3 343.6,901.0 344.3,901.9 345.0,900.9 345.7,901.0 346.4,901.9 347.1,901.9 347.8,902.2 348.5,901.0 349.2,901.0 349.9,899.6 350.6,899.8 351.3,898.8 351.8,897.7 352.7,899.5 353.4,899.3 354.1,901.0 354.8,901.7 355.5,901.9 356.2,900.7 356.9,900.7 357.6,899.0 358.3,899.2 359.0,897.1 359.7,890.6 360.4,879.7 360.7,877.5 361.1,881.5 361.8,891.9 362.5,896.5 363.2,897.2 363.9,899.7 364.6,898.8 365.3,900.5 366.0,899.5 366.7,899.6 367.4,900.8 368.1,899.5 368.8,899.1 369.5,899.8 370.2,900.3 370.9,900.5 371.6,899.6 372.3,899.2 373.0,896.4 373.7,892.8 374.4,887.3 374.7,886.2 375.1,887.2 375.8,890.4 376.5,891.2 377.2,888.4 377.8,886.4 378.6,891.2 379.3,895.2 380.0,896.9 380.7,898.0 381.4,899.8 382.1,900.7 382.8,899.3 383.5,900.5 384.2,901.1 384.9,900.1 385.6,899.8 386.3,898.5 387.0,898.5 387.7,897.5 388.4,895.4 389.1,890.3 389.9,884.8 390.5,888.1 391.2,892.7 391.9,894.4 392.6,893.4 393.3,889.8 394.0,883.2 394.6,878.8 395.4,885.2 396.1,891.2 396.8,894.6 397.5,896.9 398.2,895.6 398.9,895.1 399.6,893.3 400.3,890.1 401.0,883.6 401.7,872.6 402.2,867.5 403.1,878.0 403.8,885.8 404.5,889.3 405.2,889.7 405.9,886.0 406.6,877.1 407.3,853.0 408.1,817.0 408.7,842.6 409.4,873.4 410.1,886.1 410.8,891.7 411.5,894.6 412.2,894.6 412.9,895.4 413.7,894.1 414.3,895.7 415.0,897.2 415.7,898.0 416.4,899.3 417.1,899.6 417.8,899.7 418.5,899.9 419.2,900.3 419.9,899.5 420.6,899.4 421.3,900.3 422.0,900.4 422.7,899.6 423.4,898.6 423.8,897.5 424.8,900.4 425.5,899.8 426.2,901.0 426.9,901.6 427.6,902.0 428.3,900.7 429.0,900.3 429.7,901.7 430.4,900.4 431.1,901.9 431.8,902.0 432.5,900.1 433.2,899.8 433.9,900.8 434.6,899.7 435.3,898.7 436.0,899.8 436.7,898.3 437.4,897.2 438.1,892.1 438.8,883.7 439.3,879.6 440.2,888.9 440.9,894.8 441.6,897.8 442.3,900.0 443.0,901.1 443.7,899.5 444.4,900.0 445.1,900.8 445.8,900.1 446.5,899.5 447.1,897.4 447.9,898.2 448.6,899.0 449.3,899.1 450.0,900.5 450.7,900.9 451.4,901.1 452.1,900.2 452.8,900.0 453.5,900.0 454.2,901.6 454.9,902.5 455.6,902.6 456.3,900.5 457.0,899.8 457.7,901.8 458.4,901.2 459.1,901.7 459.8,900.8 460.5,900.8 461.2,900.9 461.9,900.7 462.6,901.0 463.3,899.5 464.0,900.7 464.7,901.2 465.4,899.3 466.1,898.9 466.8,898.3 467.5,895.4 468.3,892.5 468.9,893.3 469.6,895.0 470.3,893.9 471.0,892.3 471.3,892.1 471.7,893.1 472.4,897.2 473.1,898.9 473.8,899.2 474.5,900.1 475.2,900.3 475.9,901.7 476.6,901.7 477.3,900.4 478.0,901.7 478.7,901.7 479.4,901.8 480.1,901.9 480.8,900.9 481.5,901.8 482.2,902.0 482.9,901.5 483.6,901.5 484.3,901.5 485.0,900.4 485.7,900.8 486.4,899.0 487.1,898.9 487.8,898.6 488.5,896.5 489.2,894.9 489.9,891.2 490.8,883.7 491.3,886.0 492.0,891.2 492.7,892.0 493.4,888.8 494.1,880.0 494.8,857.6 495.4,838.8 496.2,866.1 496.9,884.8 497.6,892.3 498.3,896.2 499.0,898.2 499.7,899.9 500.4,898.2 501.1,899.4 501.8,900.0 502.5,898.6 503.2,897.2 503.9,894.4 504.6,896.7 505.3,898.9 506.0,898.9 506.7,899.4 507.4,901.3 508.1,901.0 508.8,900.8 509.5,901.8 510.2,901.0 510.9,901.5 511.6,900.0 512.3,898.6 512.8,896.0 513.7,898.7 514.4,900.6 515.1,899.5 515.8,901.5 516.5,900.2 517.2,900.7 517.9,900.1 518.6,900.8 519.3,901.3 520.0,900.0 520.7,901.9 521.4,901.1 522.1,901.1 522.8,901.3 523.5,900.7 524.2,900.2 524.9,900.9 525.6,900.7 526.3,899.6 527.0,899.7 527.7,897.3 528.6,894.3 529.1,895.5 529.8,897.0 530.5,898.4 531.2,900.5 531.9,900.4 532.6,901.8 533.3,901.8 534.0,900.1 534.7,902.0 535.4,902.5 536.1,900.4 536.8,901.9 537.5,901.1 538.2,900.9 538.9,902.0 539.6,900.2 540.3,899.6 541.0,898.8 541.3,898.1 541.7,898.2 542.4,901.1 543.1,901.8 543.8,901.5 544.5,900.3 545.2,901.2 545.9,901.1 546.6,900.4 547.3,899.9 548.0,900.9 548.7,900.2 549.4,900.8 550.1,901.5 550.8,901.2 551.5,900.6 552.2,901.2 552.9,901.0 553.6,901.8 554.3,901.4 555.0,902.5 555.7,902.6 556.4,902.1 557.1,900.6 557.8,899.8 558.5,901.4 559.2,901.4 559.9,900.6 560.6,899.0 561.3,896.8 562.0,893.5 562.5,890.9 563.4,893.0 564.1,891.3 564.4,891.0 564.8,892.5 565.5,896.1 566.2,899.9 566.9,901.1 567.6,901.6 568.3,899.6 569.0,899.1 569.7,899.3 570.4,899.4 571.1,899.0 571.8,895.4 572.5,893.4 573.2,895.3 573.9,897.6 574.6,900.1 575.3,900.7 576.0,901.2 576.7,900.7 577.4,900.9 578.1,900.3 578.8,900.5 579.5,901.6 580.2,902.2 580.9,900.4 581.6,900.0 582.3,901.6 583.0,901.7 583.7,902.0 584.4,900.8 585.1,900.9 585.8,900.5 586.5,901.8 587.2,901.0 587.9,901.5 588.6,902.5 589.3,901.0 590.0,901.1 590.7,901.5 591.4,902.0 592.1,900.6 592.8,899.7 593.5,897.8 594.2,897.3 594.9,892.1 595.3,890.6 596.3,895.9 597.0,898.6 597.7,900.3 598.4,900.0 599.1,901.3 599.8,900.0 600.5,900.0 601.2,901.2 601.9,900.1 602.6,900.4 603.3,901.5 604.0,901.8 604.7,900.9 605.4,900.3 606.1,900.6 606.8,901.7 607.5,901.1 608.2,900.3 608.9,901.5 609.6,901.6 610.3,902.5 611.0,902.8 611.7,902.8 612.4,901.6 613.1,902.2 613.8,901.1 614.5,900.8 615.2,900.9 615.9,902.3 616.6,902.6 617.3,901.1 618.0,900.9 618.7,900.9 619.4,900.9 620.1,901.0 620.8,901.0 621.5,900.5 622.2,901.3 622.9,902.1 623.6,901.7 624.3,902.3 625.0,901.8 625.7,900.7 626.4,901.8 627.1,902.5 627.8,901.1 628.5,900.1 629.2,901.0 629.9,901.4 630.6,901.5 631.3,902.6 632.0,902.1 632.7,902.4 633.4,900.6 634.1,901.2 634.8,902.0 635.5,900.5 636.2,900.0 636.9,901.6 637.6,902.4 638.3,900.6 639.0,901.5 639.7,900.5 640.4,901.7 641.1,901.8 641.8,900.8 642.5,900.5 643.2,901.7 643.9,901.5 644.6,902.0 645.3,901.3 646.0,900.9 646.7,902.4 647.4,902.0 648.1,901.5 648.8,901.4 649.5,901.9 650.2,901.9 650.9,902.5 651.6,901.4 652.3,902.0 653.0,901.8 653.7,902.2 654.4,902.1 655.1,902.1 655.8,902.2 656.5,902.3 657.2,901.4 657.9,900.6 658.6,900.5 659.3,900.0 660.0,897.8 660.7,894.5 661.4,887.7 662.1,881.5 662.8,888.3 663.5,894.6 664.2,896.8 664.9,898.1 665.6,899.4 666.3,899.6 667.0,901.5 667.7,899.9 668.4,900.1 669.1,899.7 669.8,901.0 670.5,901.7 671.2,900.5 671.9,899.8 672.6,900.6 673.3,901.2 674.0,902.2 674.7,900.2 675.4,899.8 676.1,899.9 676.8,900.0 677.5,900.0 678.2,901.2 678.9,901.1 679.6,900.1 680.3,899.5 681.0,899.2 681.7,898.3 682.4,898.4 683.1,895.1 683.9,893.0 684.5,894.9 685.2,897.6 685.9,898.5 686.6,900.6 687.3,901.5 688.0,900.4 688.7,900.7 689.4,901.7 690.1,900.8 690.8,899.5 691.5,898.2 692.2,898.8 693.2,895.3 693.6,895.8 694.3,898.4 695.0,899.8 695.7,899.8 696.4,901.7 697.1,901.5 697.8,900.4 698.5,899.5 699.2,900.4 699.9,900.3 700.6,901.2 701.3,901.0 702.0,900.0 702.7,897.2 703.5,894.7 704.1,896.4 704.8,898.4 705.5,900.8 706.2,900.8 706.9,901.2 707.6,902.3 708.3,900.8 709.0,901.1 709.7,900.2 710.4,901.5 711.1,900.0 711.8,901.6 712.5,902.1 713.2,902.2 713.9,900.4 714.6,900.2 715.3,901.3 716.0,900.0 716.7,900.5 717.4,900.6 718.1,901.7 718.8,901.0 719.5,901.2 720.2,899.4 720.9,899.5 721.6,897.4 722.3,895.2 723.0,891.0 723.6,889.5 724.4,892.2 725.1,895.7 725.8,898.0 726.5,898.2 727.2,900.4 727.9,899.9 728.6,899.9 729.3,899.5 730.0,900.0 730.7,900.6 731.4,901.4 732.1,900.8 732.8,901.5 733.5,900.3 734.2,900.6 734.9,900.9 735.6,902.3 736.3,902.4 737.0,902.0 737.7,900.2 738.4,900.7 739.1,901.6 739.8,900.7 740.5,901.3 741.2,901.2 741.9,900.0 742.6,902.2 743.3,902.3 744.0,900.9 744.7,901.5 745.4,900.8 746.1,900.9 746.8,901.3 747.5,900.8 748.2,900.8 748.9,900.9 749.6,901.6 750.3,900.8 751.0,900.4 751.7,901.6 752.4,901.0 753.1,902.4 753.8,901.8 754.5,902.0 755.2,901.1 755.9,902.1 756.6,900.5 757.3,900.2 758.0,900.0 758.7,901.4 759.4,901.9 760.1,900.7 760.8,900.9 761.5,902.0 762.2,901.8 762.9,900.4 763.6,900.4 764.3,900.2 765.0,900.0 765.7,900.7 766.4,900.0 767.1,902.0 767.8,901.3 768.5,901.3 769.2,901.6 769.9,902.0 770.6,902.3 771.3,901.2 772.0,900.8 772.7,900.8 773.4,899.8 774.1,900.5 774.8,901.4 775.5,902.3 776.2,902.0 776.9,901.5 777.6,901.2 778.3,899.4 779.0,899.4 779.7,899.1 780.4,899.2 781.1,896.9 781.8,895.7 782.8,894.7 783.2,895.3 783.9,897.6 784.6,898.6 785.3,898.4 786.0,900.2 786.7,901.3 787.4,900.9 788.1,900.4 788.8,900.7 789.5,900.0 790.2,901.2 790.9,902.3 791.6,901.5 792.3,901.7 793.0,902.1 793.7,900.6 794.4,902.0 795.1,901.6 795.8,900.4 796.5,899.7 797.2,899.8 797.9,900.5 798.6,900.7 799.3,899.1 800.0,898.7 800.8,895.4 801.4,896.6 802.1,897.4 802.8,899.6 803.5,897.0 804.3,896.8 804.9,897.8 805.6,899.5 806.3,900.4 807.0,900.0 807.7,901.7 808.4,902.4 809.1,902.2 809.8,901.7 810.5,900.3 811.2,901.7 811.9,900.8 812.6,902.0 813.3,900.7 814.0,901.1 814.7,901.9 815.4,900.5 816.1,900.9 816.8,899.7 817.5,899.2 818.2,899.2 818.9,900.9 819.6,900.8 820.3,899.1 821.0,896.4 821.8,895.4 822.4,896.8 823.1,897.8 823.8,899.4 824.5,900.8 825.2,899.4 825.9,899.6 826.6,900.4 827.3,899.9 828.0,900.4 828.7,901.1 829.4,900.3 830.1,901.0 830.8,900.5 831.5,901.2 832.2,900.8 832.9,901.5 833.6,900.2 834.3,901.4 835.0,900.4 835.7,902.2 836.4,901.8 837.1,901.4 837.8,901.1 838.5,901.6 839.2,901.9 839.9,902.1 840.6,902.2 841.3,901.6 842.0,902.7 842.7,902.6 843.4,902.6 844.1,901.5 844.8,901.2 845.5,901.5 846.2,902.4 846.9,901.7 847.6,901.5 848.3,901.2 849.0,902.3 849.7,901.2 850.4,900.2 851.1,901.6 851.8,902.4 852.5,902.3 853.2,901.9 853.9,902.1 854.6,901.1 855.3,901.5 856.0,900.3 856.7,900.1 857.4,900.8 858.1,901.2 858.8,901.0 859.5,900.1 860.2,901.5 860.9,901.4 861.6,900.7 862.3,900.6 863.0,900.9 863.7,900.5 864.4,900.0 865.1,901.9 865.8,902.6 866.5,902.1 867.2,902.4 867.9,901.4 868.6,902.0 869.3,900.7 870.0,901.6 870.7,901.3 871.4,902.0 872.1,900.1 872.8,901.0 873.5,899.3 874.2,899.2 874.9,899.1 875.6,894.6 876.2,893.8 877.0,895.2 877.7,896.9 878.4,896.5 879.1,897.0 879.7,895.6 880.5,897.6 881.2,899.0 881.9,900.3 882.6,899.5 883.3,899.3 884.0,901.5 884.7,900.7 885.4,901.0 886.1,902.2 886.8,902.7 887.5,901.6 888.2,900.6 888.9,900.6 889.6,902.1 890.3,902.5 891.0,900.9 891.7,902.0 892.4,901.2 893.1,901.2 893.8,900.5 894.5,902.0 895.2,902.8 895.9,901.0 896.6,901.6 897.3,900.6 898.0,902.1 898.7,900.5 899.4,900.1 900.1,901.6 900.8,901.0 901.5,902.3 902.2,902.6 902.9,902.3 903.6,900.7 904.3,901.7 905.0,902.6 905.7,901.6 906.4,900.4 907.1,900.4 907.8,900.6 908.5,901.7 909.2,900.7 909.9,900.4 910.6,900.4 911.3,901.5 912.0,902.2 912.7,901.3 913.4,901.8 914.1,902.5 914.8,901.9 915.5,900.9 916.2,900.7 916.9,902.3 917.6,902.1 918.3,901.0 919.0,901.6 919.7,900.4 920.4,902.3 921.1,901.5 921.8,901.5 922.5,901.5 923.2,900.3 923.9,901.3 924.6,900.8 925.3,900.6 926.0,901.9 926.7,900.5 927.4,900.6" fill="none" stroke="#000000" stroke-width="2.7" stroke-linejoin="round" stroke-linecap="round"/>
<g stroke="#000" stroke-width="2.6" fill="#fff">
<rect x="824.5" y="2.9" width="101.2" height="49.6"/>
<rect x="720.6" y="308.4" width="205.1" height="50.1"/>
<rect x="731.5" y="613.4" width="194.2" height="49.8"/>
</g>
<line x1="928.0" y1="3.7" x2="928.0" y2="914.9" stroke="#000" stroke-width="2.7"/>
<text x="129.5" y="307.59999999999997" font-size="37" text-anchor="end">0</text>
<text x="129.5" y="245.79999999999998" font-size="37" text-anchor="end">100</text>
<text x="129.5" y="185.2" font-size="37" text-anchor="end">200</text>
<text x="129.5" y="124.59999999999998" font-size="37" text-anchor="end">300</text>
<text x="129.5" y="63.999999999999986" font-size="37" text-anchor="end">400</text>
<text x="129.5" y="606.6" font-size="37" text-anchor="end">0</text>
<text x="129.5" y="546.1" font-size="37" text-anchor="end">3700</text>
<text x="129.5" y="485.59999999999997" font-size="37" text-anchor="end">7400</text>
<text x="129.5" y="425.09999999999997" font-size="37" text-anchor="end">11100</text>
<text x="129.5" y="364.59999999999997" font-size="37" text-anchor="end">14800</text>
<text x="129.5" y="913.4000000000001" font-size="37" text-anchor="end">0</text>
<text x="129.5" y="852.4000000000001" font-size="37" text-anchor="end">920</text>
<text x="129.5" y="791.9000000000001" font-size="37" text-anchor="end">1840</text>
<text x="129.5" y="731.4000000000001" font-size="37" text-anchor="end">2760</text>
<text x="129.5" y="670.9000000000001" font-size="37" text-anchor="end">3680</text>
<text x="144.5" y="959.4" font-size="37" text-anchor="middle">10</text>
<text x="256.4" y="959.4" font-size="37" text-anchor="middle">20</text>
<text x="368.2" y="959.4" font-size="37" text-anchor="middle">30</text>
<text x="480.1" y="959.4" font-size="37" text-anchor="middle">40</text>
<text x="591.9" y="959.4" font-size="37" text-anchor="middle">50</text>
<text x="703.8" y="959.4" font-size="37" text-anchor="middle">60</text>
<text x="815.6" y="959.4" font-size="37" text-anchor="middle">70</text>
<text x="927.5" y="959.4" font-size="37" text-anchor="middle">80</text>
<text x="504.8" y="1016" font-size="37" text-anchor="middle" letter-spacing="0.5">2 θ (°)</text>
<text transform="translate(26.2 444.3) rotate(-90)" font-size="37" text-anchor="middle" letter-spacing="0.15">Intensity</text>
<text x="841.5" y="43.7" font-size="37" text-anchor="start">UFA</text>
<text x="750.4" y="349.3" font-size="37" text-anchor="start" letter-spacing="0.08">Material B</text>
<text x="753.4" y="654.3" font-size="37" text-anchor="start" letter-spacing="-0.1">Material A</text>
<text x="539.8" y="33.9" font-size="27" text-anchor="start" letter-spacing="0.05">M - Mullite</text>
<text x="539.8" y="68.5" font-size="27" text-anchor="start" letter-spacing="0.16">Ma - Magadiite</text>
<text x="539.8" y="103.1" font-size="27" text-anchor="start" letter-spacing="-0.1">A - Aluminum Oxide</text>
<text x="539.8" y="137.70000000000002" font-size="27" text-anchor="start" letter-spacing="0.05">W- Wairakite</text>
<text x="539.8" y="172.3" font-size="27" text-anchor="start" letter-spacing="0">C - Calcium Silicate Sulfate</text>
<text x="539.8" y="206.9" font-size="27" text-anchor="start" letter-spacing="0.24">D - Diaspore</text>
<text x="695.3" y="395" font-size="31" text-anchor="start" letter-spacing="0.18">A - Anhydrite</text>
<text x="695" y="435.4" font-size="31" text-anchor="start" letter-spacing="0.28">Q - Quicklime</text>
<polygon points="776.8,679.8 786.1,689.1 776.8,698.4 767.5,689.1" fill="none" stroke="#000" stroke-width="2.2"/>
<text x="794.9" y="700.2" font-size="31">-</text>
<text x="813.5" y="700.2" font-size="31">C</text>
<text x="835.2" y="710.5" font-size="20">4</text>
<text x="845.7" y="700.2" font-size="31">A</text>
<text x="867.8" y="710.5" font-size="20">3</text>
<text x="878.4" y="700.2" font-size="31" stroke-width="0.9">S</text>
<polygon points="776.5,729.2 786.8,748.1 766.2,748.1" fill="none" stroke="#000" stroke-width="2.2"/>
<text x="794.9" y="749.2" font-size="31">-</text>
<text x="813.5" y="749.2" font-size="31">C</text>
<text x="835.2" y="759.5" font-size="20">2</text>
<text x="845.4" y="749.2" font-size="31" stroke-width="0.9">S</text>
<text x="212.2" y="205.3" font-size="27.5" text-anchor="middle">M</text>
<text x="330.1" y="30.9" font-size="27.5" text-anchor="middle">Ma</text>
<text x="371.7" y="255.3" font-size="27.5" text-anchor="middle">W</text>
<text x="400.8" y="197.6" font-size="27.5" text-anchor="middle">A</text>
<text x="430.7" y="177.4" font-size="27.5" text-anchor="middle">C</text>
<text x="463.2" y="241.2" font-size="27.5" text-anchor="middle">D</text>
<text x="485.4" y="162.7" font-size="27.5" text-anchor="middle">C</text>
<text x="510.2" y="227.1" font-size="27.5" text-anchor="middle">D</text>
<text x="631.9" y="245.8" font-size="27.5" text-anchor="middle">A</text>
<text x="673.6" y="249.7" font-size="27.5" text-anchor="middle">A</text>
<text x="703.4" y="199.2" font-size="27.5" text-anchor="middle">C</text>
<text x="752.2" y="239.5" font-size="27.5" text-anchor="middle">A</text>
<text x="162.4" y="572.2" font-size="31" text-anchor="middle">Q</text>
<text x="317.1" y="340.4" font-size="31" text-anchor="middle">A</text>
<text x="386.4" y="568.8" font-size="31" text-anchor="middle">Q</text>
<text x="451.8" y="568.8" font-size="31" text-anchor="middle">A</text>
<text x="491.4" y="575.6" font-size="31" text-anchor="middle">A</text>
<text x="614.7" y="566.4" font-size="31" text-anchor="middle">Q</text>
<polygon points="240.4,860.6 251.1,871.3 240.4,882.0 229.7,871.3" fill="none" stroke="#000" stroke-width="2.5"/>
<polygon points="296.9,626.6 307.6,637.3 296.9,648.0 286.2,637.3" fill="none" stroke="#000" stroke-width="2.5"/>
<polygon points="412.6,789.0 423.3,799.7 412.6,810.4 401.9,799.7" fill="none" stroke="#000" stroke-width="2.5"/>
<polygon points="439.3,856.8 450.0,867.5 439.3,878.2 428.6,867.5" fill="none" stroke="#000" stroke-width="2.5"/>
<polygon points="498.4,810.6 509.1,821.3 498.4,832.0 487.7,821.3" fill="none" stroke="#000" stroke-width="2.5"/>
<polygon points="603.2,866.1 613.9,876.8 603.2,887.5 592.5,876.8" fill="none" stroke="#000" stroke-width="2.5"/>
<polygon points="663.6,856.8 674.3,867.5 663.6,878.2 652.9,867.5" fill="none" stroke="#000" stroke-width="2.5"/>
<polygon points="728.2,860.4 738.9,871.1 728.2,881.8 717.5,871.1" fill="none" stroke="#000" stroke-width="2.5"/>
<polygon points="341.0,858.7 351.2,876.3 330.8,876.3" fill="none" stroke="#000" stroke-width="2.4"/>
<polygon points="365.3,854.0 375.5,871.4 355.1,871.4" fill="none" stroke="#000" stroke-width="2.4"/>
<polygon points="395.8,849.8 406.0,867.4 385.6,867.4" fill="none" stroke="#000" stroke-width="2.4"/>
<polygon points="474.7,864.4 484.9,881.8 464.5,881.8" fill="none" stroke="#000" stroke-width="2.4"/>
<polygon points="571.4,862.5 581.6,880.7 561.2,880.7" fill="none" stroke="#000" stroke-width="2.4"/>
</svg></body></html>
